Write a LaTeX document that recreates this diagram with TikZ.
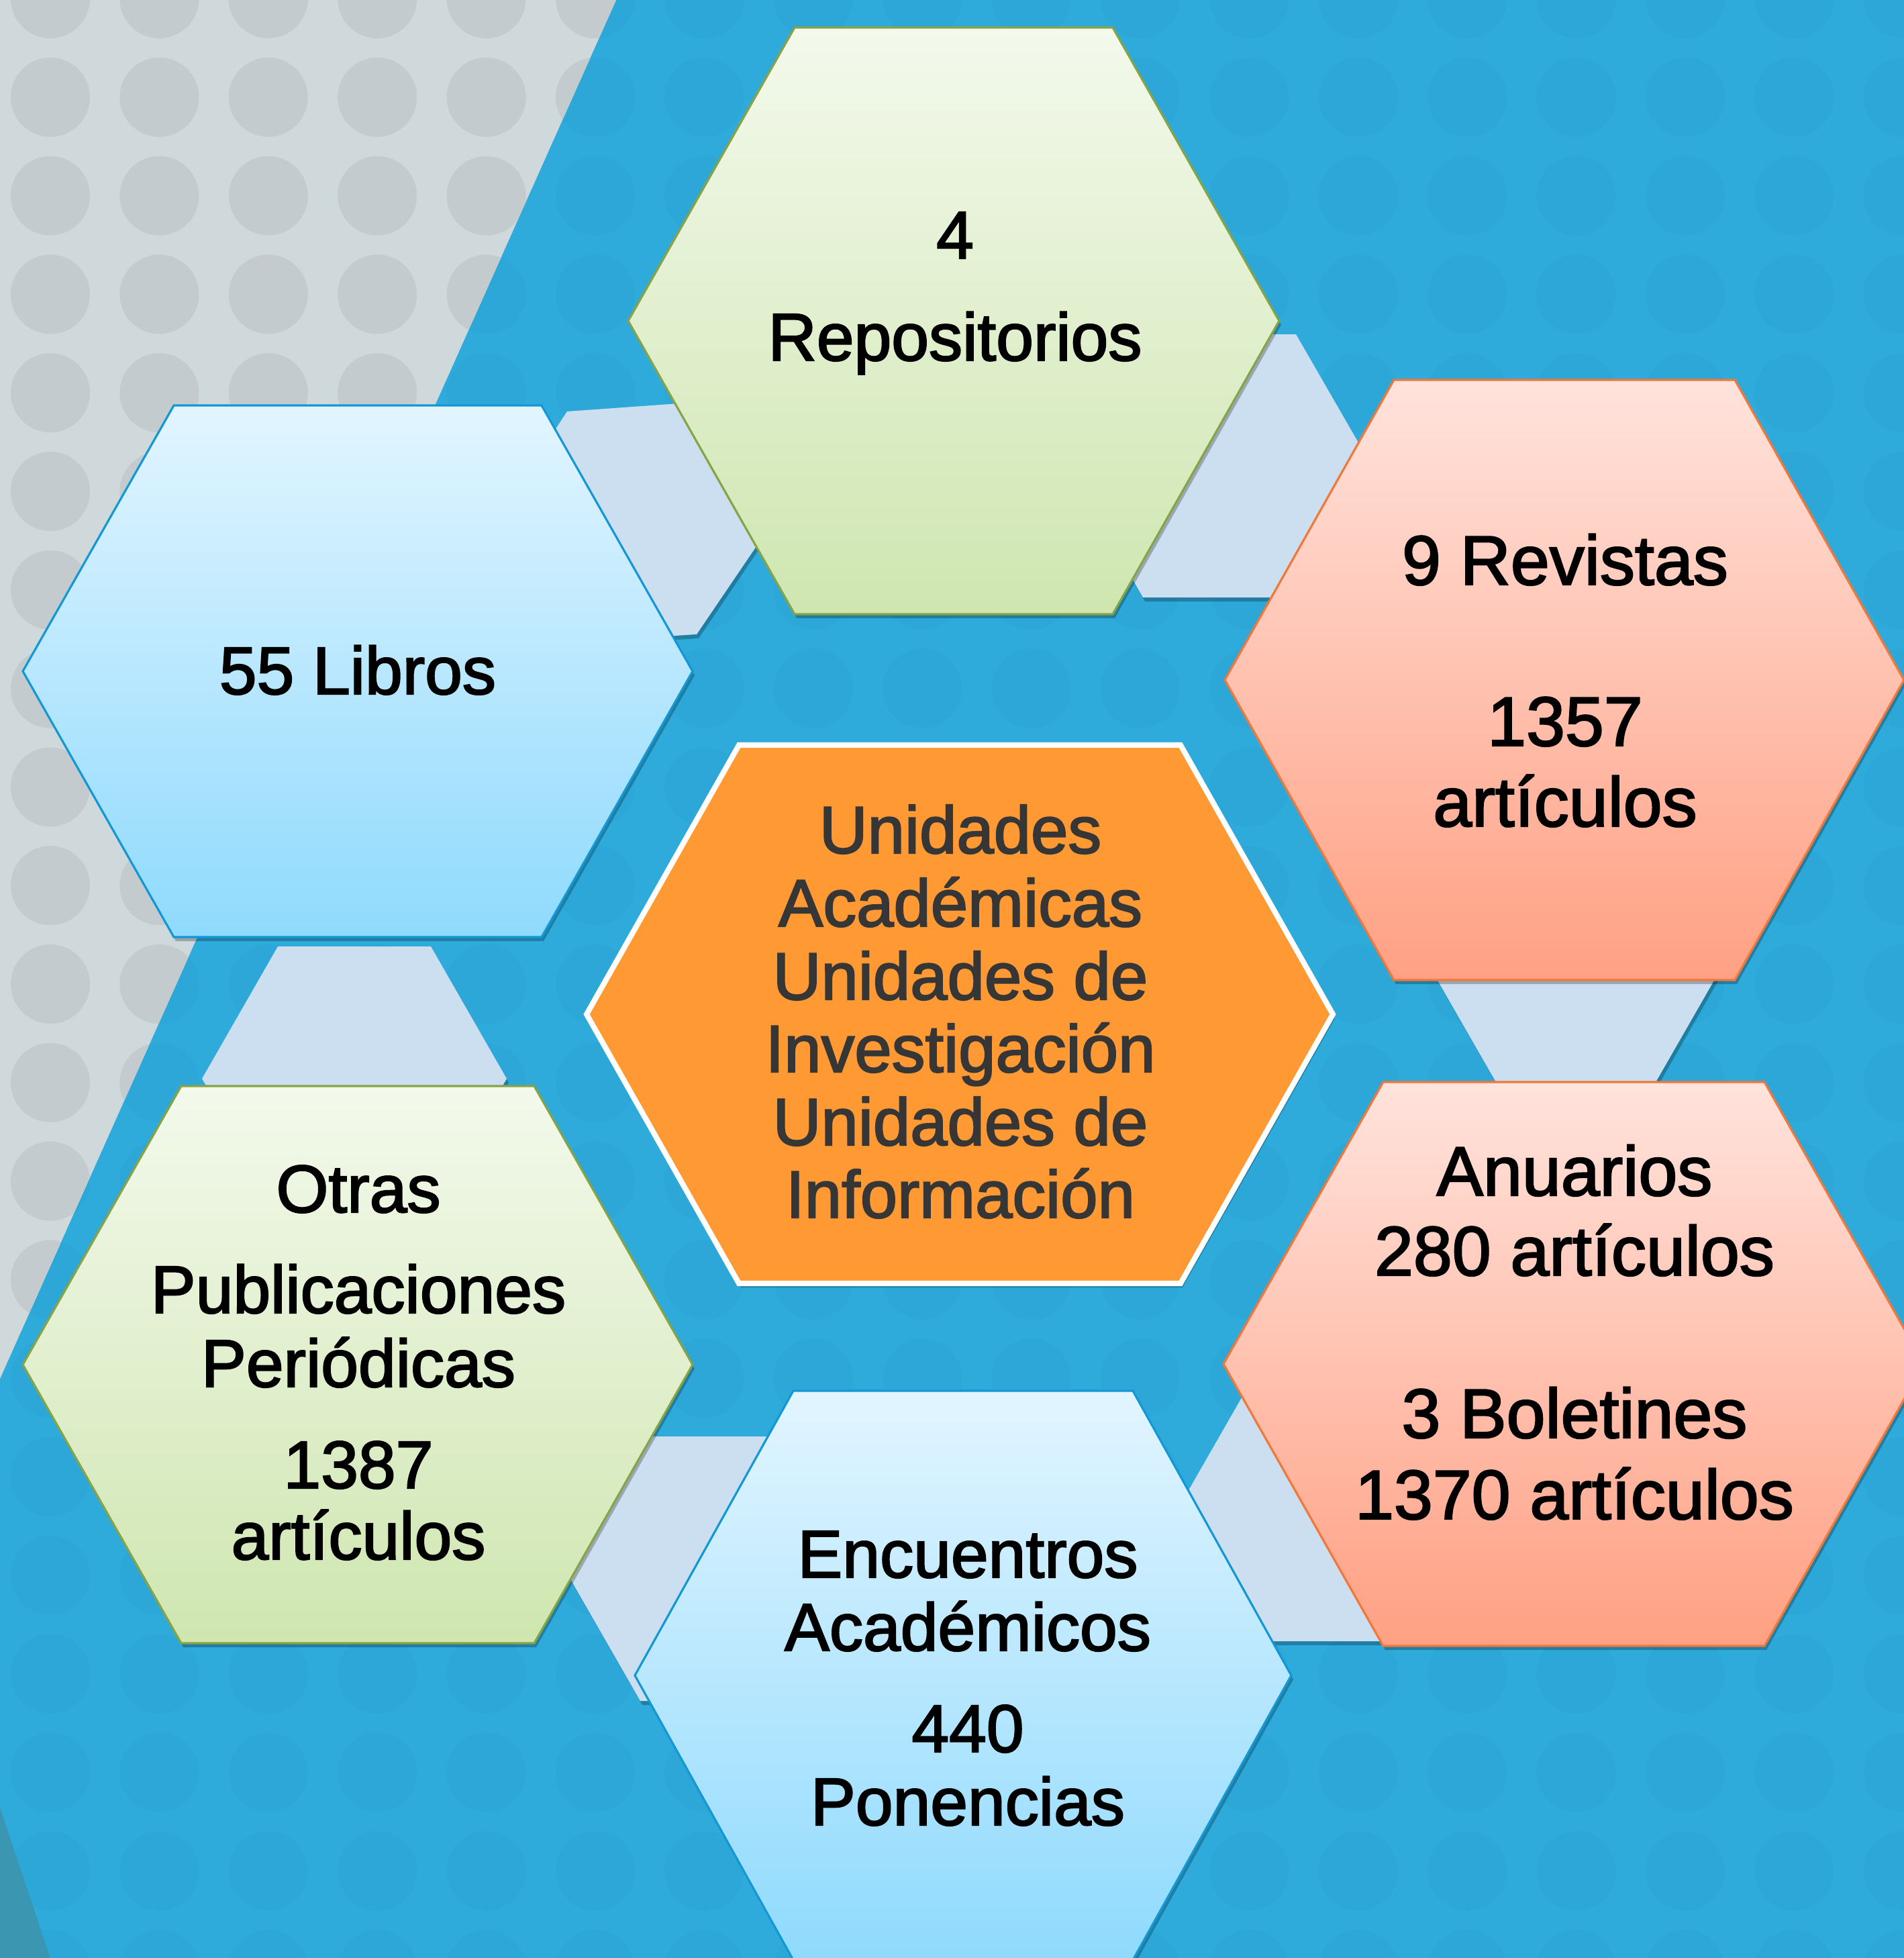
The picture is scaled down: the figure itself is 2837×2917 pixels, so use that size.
\documentclass[tikz,border=0pt]{standalone}
\usepackage{fontspec}
\setmainfont{Liberation Sans}
\newfontfamily\lblfont{Liberation Sans}[FakeBold=2.2]
\definecolor{bgblue}{HTML}{2EAADB}
\definecolor{bgdot}{HTML}{2CA7D7}
\definecolor{grayA}{HTML}{CFD8DB}
\definecolor{grayD}{HTML}{C3CBCE}
\definecolor{tealA}{HTML}{3A96B1}
\definecolor{conn}{HTML}{CBDFF0}
\definecolor{gtop}{HTML}{F3F9EC}
\definecolor{gbot}{HTML}{CFE6B0}
\definecolor{gline}{HTML}{86A346}
\definecolor{btop}{HTML}{E2F5FF}
\definecolor{bbot}{HTML}{8FDAFD}
\definecolor{bline}{HTML}{1398D5}
\definecolor{stop}{HTML}{FFE3DC}
\definecolor{sbot}{HTML}{FFA083}
\definecolor{sline}{HTML}{F0783A}
\definecolor{orng}{HTML}{FF9933}
\definecolor{ctext}{HTML}{363636}
\tikzset{
  hexagon/.style n args={5}{insert path={(#1-#3,#2) -- (#1-#5,#2-#4) -- (#1+#5,#2-#4) -- (#1+#3,#2) -- (#1+#5,#2+#4) -- (#1-#5,#2+#4) -- cycle}},
  shadowfill/.style={fill=black, opacity=0.25, shift={(3,6)}},
  connfill/.style={fill=conn},
  greenhex/.style={top color=gtop, bottom color=gbot, draw=gline, line width=0.9pt},
  bluehex/.style={top color=btop, bottom color=bbot, draw=bline, line width=0.9pt},
  salmonhex/.style={top color=stop, bottom color=sbot, draw=sline, line width=0.9pt},
  centerhex/.style={fill=orng, draw=white, line width=2.3pt},
  lbl/.style={anchor=base, inner sep=0pt, font=\lblfont\fontsize{28.5}{34}\selectfont},
  lblbig/.style={anchor=base, inner sep=0pt, font=\lblfont\fontsize{29.6}{35}\selectfont},
  lblc/.style={anchor=base, inner sep=0pt, text=ctext, font=\lblfont\fontsize{28.3}{34}\selectfont}
}
\begin{document}
\begin{tikzpicture}[x=0.01cm,y=-0.01cm]
\useasboundingbox (0,0) rectangle (2837,2917);
\clip (0,0) rectangle (2837,2917);
% background
\fill[bgblue] (0,0) rectangle (2837,2917);
\foreach \i in {0,...,17} \foreach \j in {0,...,20}
  \fill[bgdot] ({75+162.4*\i},{-2+146.8*\j}) circle[radius=0.59cm];
\begin{scope}
  \clip (0,0) -- (918,0) -- (0,2054) -- cycle;
  \fill[grayA] (0,0) rectangle (918,2054);
  \foreach \i in {0,...,5} \foreach \j in {0,...,14}
    \fill[grayD] ({75+162.4*\i},{-2+146.8*\j}) circle[radius=0.59cm];
\end{scope}
\fill[tealA] (0,2693) -- (75,2917) -- (0,2917) -- cycle;

% connectors (shadows then fills)
\path[shadowfill] (845,613) -- (1040,599) -- (1150,780) -- (1038,945) -- (960,950) -- (790,697) -- cycle;
\path[shadowfill, hexagon={1817}{694}{227}{196}{114}];
\path[shadowfill, hexagon={528}{1607}{227}{197}{114}];
\path[shadowfill, hexagon={1068}{2337}{227}{197}{114}];
\path[shadowfill, hexagon={1982}{2248}{227}{197}{114}];
\path[shadowfill, hexagon={2348}{1424}{227}{197}{114}];
\path[connfill] (845,613) -- (1040,599) -- (1150,780) -- (1038,945) -- (960,950) -- (790,697) -- cycle;
\path[connfill, hexagon={1817}{694}{227}{196}{114}];
\path[connfill, hexagon={528}{1607}{227}{197}{114}];
\path[connfill, hexagon={1068}{2337}{227}{197}{114}];
\path[connfill, hexagon={1982}{2248}{227}{197}{114}];
\path[connfill, hexagon={2348}{1424}{227}{197}{114}];

% main hexagon shadows
\path[shadowfill, hexagon={1421}{478}{485}{437}{237}];
\path[shadowfill, hexagon={533}{1000}{499}{396}{274}];
\path[shadowfill, hexagon={2331}{1013}{506}{447}{254}];
\path[shadowfill, hexagon={2345}{2032}{522}{420}{284}];
\path[shadowfill, hexagon={1435}{2496}{489}{424}{253}];
\path[shadowfill, hexagon={533}{2033}{499}{415}{263}];
\path[shadowfill, hexagon={1430}{1511}{556}{401}{329}];

% main hexagons
\path[greenhex, hexagon={1421}{478}{485}{437}{237}];
\path[bluehex, hexagon={533}{1000}{499}{396}{274}];
\path[salmonhex, hexagon={2331}{1013}{506}{447}{254}];
\path[salmonhex, hexagon={2345}{2032}{522}{420}{284}];
\path[bluehex, hexagon={1435}{2496}{489}{424}{253}];
\path[greenhex, hexagon={533}{2033}{499}{415}{263}];
\path[centerhex, hexagon={1430}{1511}{556}{401}{329}];

% texts
\node[lbl] (repoA) at (1423,385) {4};
\node[lbl] (repoB) at (1423,537) {Repositorios};
\node[lbl] (libros) at (533,1034) {55 Libros};
\node[lblbig] (revA) at (2332,871) {9 Revistas};
\node[lblbig] (revB) at (2332,1111) {1357};
\node[lblbig] (revC) at (2332,1231) {artículos};
\node[lblbig] (anuA) at (2346,1781) {Anuarios};
\node[lblbig] (anuB) at (2346,1900) {280 artículos};
\node[lblbig] (anuC) at (2346,2142) {3 Boletines};
\node[lblbig] (anuD) at (2346,2263) {1370 artículos};
\node[lblc] (cenA) at (1431,1271) {Unidades};
\node[lblc] (cenB) at (1431,1380) {Académicas};
\node[lblc] (cenC) at (1431,1489) {Unidades de};
\node[lblc] (cenD) at (1431,1597) {Investigación};
\node[lblc] (cenE) at (1431,1706) {Unidades de};
\node[lblc] (cenF) at (1431,1814) {Información};
\node[lbl] (otrA) at (534,1806) {Otras};
\node[lbl] (otrB) at (534,1956) {Publicaciones};
\node[lbl] (otrC) at (534,2066) {Periódicas};
\node[lbl] (otrD) at (534,2217) {1387};
\node[lbl] (otrE) at (534,2323) {artículos};
\node[lbl] (encA) at (1442,2350) {Encuentros};
\node[lbl] (encB) at (1442,2459) {Académicos};
\node[lbl] (encC) at (1442,2610) {440};
\node[lbl] (encD) at (1442,2719) {Ponencias};
\end{tikzpicture}
\end{document}
